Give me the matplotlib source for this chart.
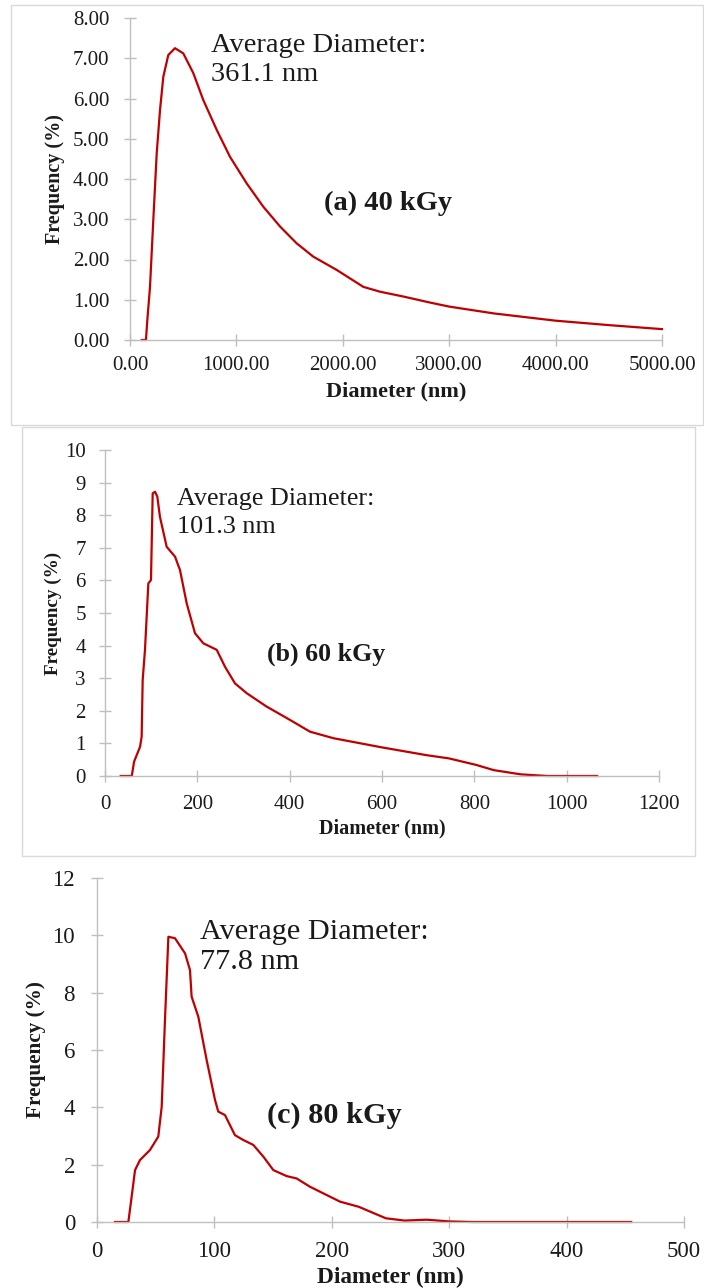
import matplotlib
matplotlib.use("Agg")
import matplotlib.pyplot as plt
from matplotlib.patches import Rectangle

# ---------------- data ----------------
diam_a = [110, 150, 163, 188, 219, 251, 282, 313, 360, 423, 501, 595, 689, 815, 940,
          1097, 1253, 1410, 1567, 1723, 1943, 2068, 2193, 2350, 2569, 2820, 3000, 3420,
          4000, 4500, 5000]
freq_a = [0, 0, 0.5, 1.32, 2.98, 4.64, 5.71, 6.54, 7.08, 7.25, 7.12, 6.63, 5.96, 5.22, 4.55,
          3.89, 3.31, 2.82, 2.40, 2.07, 1.74, 1.53, 1.32, 1.20, 1.08, 0.93, 0.83, 0.66,
          0.48, 0.37, 0.27]

diam_b = [34, 58, 63, 76, 79.4, 81.6, 86.6, 93.9, 99.6, 103.3, 108.3, 113.3, 119, 133.6,
          151.6, 162.4, 176.9, 194.9, 213, 242, 260, 281.6, 306.9, 350, 400.7, 444, 494.5,
          599, 696, 745, 804, 842, 901, 959, 1066]
freq_b = [0, 0, 0.44, 0.9, 1.21, 2.94, 3.87, 5.91, 6.01, 8.67, 8.72, 8.57, 7.95, 7.03,
          6.73, 6.32, 5.3, 4.38, 4.07, 3.87, 3.35, 2.84, 2.54, 2.13, 1.72, 1.36, 1.16,
          0.88, 0.64, 0.54, 0.34, 0.18, 0.05, 0, 0]

diam_c = [15.3, 26.7, 29.5, 32.4, 36.6, 45.1, 52.2, 55.1, 57.9, 60.8, 66.4, 75, 79.2, 80.6,
          86.3, 93.4, 100.5, 103.3, 109, 117.5, 124.6, 133.1, 141.7, 150.2, 161.6, 170,
          181.4, 207, 223, 246, 262, 281, 300, 320, 455]
freq_c = [0, 0, 0.88, 1.81, 2.16, 2.51, 2.98, 4.02, 7.05, 9.95, 9.9, 9.37, 8.79, 7.86,
          7.16, 5.65, 4.26, 3.85, 3.73, 3.03, 2.86, 2.69, 2.28, 1.81, 1.6, 1.52,
          1.23, 0.71, 0.53, 0.13, 0.05, 0.08, 0.02, 0, 0]

avg_text = ["361.1 nm", "101.3 nm", "77.8 nm"]
dose_text = ["(a) 40 kGy", "(b) 60 kGy", "(c) 80 kGy"]

xticks_a = [0, 1000, 2000, 3000, 4000, 5000]
yticks_a = [0, 1, 2, 3, 4, 5, 6, 7, 8]
xticks_b = [0, 200, 400, 600, 800, 1000, 1200]
yticks_b = list(range(0, 11))
xticks_c = [0, 100, 200, 300, 400, 500]
yticks_c = [0, 2, 4, 6, 8, 10, 12]

# ---------------- layout helpers ----------------
W, H = 704, 1288
fig = plt.figure(figsize=(W / 100, H / 100), dpi=100)
fig.patch.set_facecolor("white")

SERIF = ["Liberation Serif", "DejaVu Serif"]
LINE = "#C00000"
AXC = "#BFBFBF"
TXT = "#1a1a1a"


def fx(px):
    return px / W


def fy(py):
    return 1 - py / H


def add_box(x0, y0, x1, y1):
    fig.patches.append(Rectangle((fx(x0), fy(y1)), fx(x1) - fx(x0), fy(y0) - fy(y1),
                                 transform=fig.transFigure, fill=False,
                                 edgecolor="#D9D9D9", linewidth=1.0, zorder=0))


def make_panel(left, right, top, bottom, x, y, xlim, ylim, xticks, yticks, fmt,
               tick_fs, xpad, ypad, xlab_fs, ylab_fs, xlab_y, ylab_x):
    ax = fig.add_axes([fx(left), fy(bottom), fx(right) - fx(left), fy(top) - fy(bottom)])
    ax.plot(x, y, color=LINE, linewidth=1.6, solid_joinstyle="round", clip_on=False)
    ax.set_xlim(*xlim)
    ax.set_ylim(*ylim)
    ax.set_xticks(xticks)
    ax.set_yticks(yticks)
    ax.set_xticklabels([fmt.format(v) for v in xticks], fontfamily=SERIF, fontsize=tick_fs, color=TXT)
    ax.set_yticklabels([fmt.format(v) for v in yticks], fontfamily=SERIF, fontsize=tick_fs, color=TXT)
    for s in ["top", "right"]:
        ax.spines[s].set_visible(False)
    for s in ["left", "bottom"]:
        ax.spines[s].set_color(AXC)
        ax.spines[s].set_linewidth(1.0)
    ax.tick_params(axis="both", direction="inout", length=8.5, width=1.0, color=AXC)
    ax.tick_params(axis="x", pad=xpad)
    ax.tick_params(axis="y", pad=ypad)
    ax.set_facecolor("none")
    ax.set_xlabel("Diameter (nm)", fontfamily=SERIF, fontsize=xlab_fs, fontweight="bold",
                  color=TXT, va="center")
    ax.set_ylabel("Frequency (%)", fontfamily=SERIF, fontsize=ylab_fs, fontweight="bold",
                  color=TXT, va="center")
    ax.xaxis.set_label_coords(0.5, (bottom - xlab_y) / (bottom - top))
    ax.yaxis.set_label_coords((ylab_x - left) / (right - left), 0.5)
    return ax


# panel borders
add_box(11, 5, 703, 425)
add_box(22, 427, 695, 856)

# panel (a)
make_panel(130, 662, 18, 340, diam_a, freq_a, (0, 5000), (0, 8), xticks_a, yticks_a,
           "{:.2f}", 15, 7.0, 10.5, 16, 14.5, 391, 55)
fig.text(fx(211), fy(52.5), "Average Diameter:", fontfamily=SERIF, fontsize=20.5, color=TXT, va="baseline")
fig.text(fx(211), fy(81), avg_text[0], fontfamily=SERIF, fontsize=20.5, color=TXT, va="baseline")
fig.text(fx(324), fy(210), dose_text[0], fontfamily=SERIF, fontsize=20.5, fontweight="bold", color=TXT, va="baseline")

# panel (b)
make_panel(105, 659, 450, 776, diam_b, freq_b, (0, 1200), (0, 10), xticks_b, yticks_b,
           "{:d}", 15, 9.5, 9.5, 14.5, 13.8, 828, 53)
fig.text(fx(177), fy(505), "Average Diameter:", fontfamily=SERIF, fontsize=18.8, color=TXT, va="baseline")
fig.text(fx(177), fy(533), avg_text[1], fontfamily=SERIF, fontsize=18.8, color=TXT, va="baseline")
fig.text(fx(267), fy(661), dose_text[1], fontfamily=SERIF, fontsize=18.6, fontweight="bold", color=TXT, va="baseline")

# panel (c)
make_panel(97, 684, 878, 1222, diam_c, freq_c, (0, 500), (0, 12), xticks_c, yticks_c,
           "{:d}", 16.5, 9.5, 11.5, 16.8, 15.3, 1277, 35.5)
fig.text(fx(200), fy(939), "Average Diameter:", fontfamily=SERIF, fontsize=21.8, color=TXT, va="baseline")
fig.text(fx(200), fy(969), avg_text[2], fontfamily=SERIF, fontsize=21.8, color=TXT, va="baseline")
fig.text(fx(267), fy(1123), dose_text[2], fontfamily=SERIF, fontsize=21.8, fontweight="bold", color=TXT, va="baseline")

fig.savefig("out.png", dpi=100)
